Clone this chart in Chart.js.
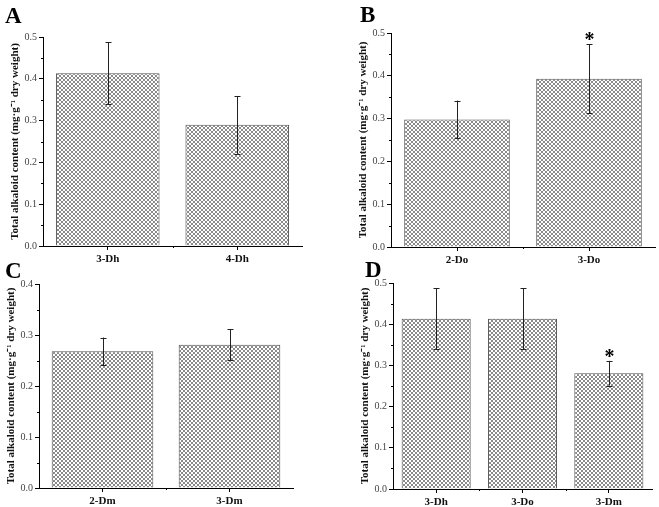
<!DOCTYPE html>
<html><head><meta charset="utf-8">
<script src="https://cdn.jsdelivr.net/npm/chart.js@4/dist/chart.umd.min.js"></script>
<style>
html,body{margin:0;padding:0;background:#fff;}
#wrap{position:relative;width:659px;height:507px;overflow:hidden;background:#fff;}
canvas{position:absolute;}
.lbl{position:absolute;font-family:"Liberation Serif",serif;font-weight:bold;font-size:23px;line-height:1;color:#000;}
</style></head>
<body>
<div id="wrap">
  <canvas id="cA" width="330" height="270" style="left:0;top:0"></canvas>
  <canvas id="cB" width="329" height="270" style="left:330px;top:0"></canvas>
  <canvas id="cC" width="330" height="252" style="left:0;top:255px"></canvas>
  <canvas id="cD" width="329" height="252" style="left:330px;top:255px"></canvas>
  <div class="lbl" style="left:5px;top:4px">A</div>
  <div class="lbl" style="left:360px;top:3px">B</div>
  <div class="lbl" style="left:5px;top:259px">C</div>
  <div class="lbl" style="left:365px;top:258px">D</div>
</div>
<script>
// ---- data ----
const catsA = ['3-Dh', '4-Dh'];
const valsA = [0.413, 0.290];
const errA  = [0.074, 0.069];
const sigA  = ['', ''];

const catsB = ['2-Do', '3-Do'];
const valsB = [0.298, 0.393];
const errB  = [0.044, 0.081];
const sigB  = ['', '*'];

const catsC = ['2-Dm', '3-Dm'];
const valsC = [0.268, 0.281];
const errC  = [0.027, 0.030];
const sigC  = ['', ''];

const catsD = ['3-Dh', '3-Do', '3-Dm'];
const valsD = [0.413, 0.413, 0.281];
const errD  = [0.074, 0.074, 0.030];
const sigD  = ['', '', '*'];

const yMaxA = 0.5, yMaxB = 0.5, yMaxC = 0.4, yMaxD = 0.5;
const yTitle = 'Total alkaloid content (mg\u00B7g\u207B\u00B9 dry weight)';

// ---- style ----
const FONT = '"Liberation Serif", "Times New Roman", serif';

function makePattern() {
  const c = document.createElement('canvas');
  c.width = 4; c.height = 4;
  const g = c.getContext('2d');
  g.fillStyle = '#ffffff'; g.fillRect(0, 0, 4, 4);
  g.fillStyle = '#8a8a8a';
  for (let i = 0; i < 4; i++) {
    g.fillRect(i, i, 1, 1);
    g.fillRect(3 - i, i, 1, 1);
  }
  return g.createPattern(c, 'repeat');
}

const errPlugin = {
  id: 'errbars',
  afterDatasetsDraw(chart) {
    const {ctx} = chart;
    const y = chart.scales.y;
    const ds = chart.data.datasets[0];
    const meta = chart.getDatasetMeta(0);
    ctx.save();
    ctx.strokeStyle = '#222';
    ctx.lineWidth = 1;
    ds.data.forEach((v, i) => {
      const e = ds.errors[i];
      const cx = Math.round(meta.data[i].x) + 0.5;
      const yt = y.getPixelForValue(v + e);
      const yb = y.getPixelForValue(v - e);
      ctx.beginPath();
      ctx.moveTo(cx, yt); ctx.lineTo(cx, yb);
      ctx.moveTo(cx - 3, Math.round(yt) + 0.5); ctx.lineTo(cx + 3, Math.round(yt) + 0.5);
      ctx.moveTo(cx - 3, Math.round(yb) + 0.5); ctx.lineTo(cx + 3, Math.round(yb) + 0.5);
      ctx.stroke();
      if (ds.sig[i]) {
        ctx.fillStyle = '#000';
        ctx.font = 'bold 20px ' + FONT;
        ctx.textAlign = 'center';
        ctx.textBaseline = 'alphabetic';
        ctx.fillText(ds.sig[i], cx, yt + 2);
      }
    });
    // minor ticks
    const a = chart.chartArea;
    ctx.strokeStyle = '#000';
    ctx.beginPath();
    for (let t = 0.05; t < y.max; t += 0.1) {
      const py = Math.round(y.getPixelForValue(t)) + 0.5;
      ctx.moveTo(a.left - 2, py); ctx.lineTo(a.left, py);
    }
    const n = ds.data.length;
    for (let i = 1; i < n; i++) {
      const px = Math.round(a.left + i * (a.right - a.left) / n) + 0.5;
      ctx.moveTo(px, a.bottom); ctx.lineTo(px, a.bottom + 2);
    }
    ctx.stroke();
    ctx.restore();
  }
};

function makeChart(id, cats, vals, errs, sig, yMax, area) {
  const cv = document.getElementById(id);
  const W = cv.width, H = cv.height;
  return new Chart(cv, {
    type: 'bar',
    data: {
      labels: cats,
      datasets: [{
        data: vals,
        errors: errs,
        sig: sig,
        backgroundColor: makePattern(),
        borderColor: '#555',
        borderWidth: 1,
        barPercentage: 0.8,
        categoryPercentage: 1.0
      }]
    },
    options: {
      responsive: false,
      animation: false,
      devicePixelRatio: 1,
      layout: {padding: {left: 0, top: area.top, right: W - area.right, bottom: 0}},
      plugins: {legend: {display: false}, tooltip: {enabled: false}},
      scales: {
        x: {
          grid: {display: true, drawOnChartArea: false, offset: false, tickLength: 4, color: '#000'},
          border: {display: true, color: '#000', width: 1},
          ticks: {font: {family: FONT, weight: 'bold', size: 11}, color: '#111', padding: 3, maxRotation: 0},
          afterFit(s) { s.height = H - area.bottom; }
        },
        y: {
          min: 0, max: yMax,
          ticks: {stepSize: 0.1, callback: v => Number(v).toFixed(1), font: {family: FONT, size: 10}, color: '#444', padding: 2},
          grid: {display: true, drawOnChartArea: false, tickLength: 4, color: '#000'},
          border: {display: true, color: '#000', width: 1},
          title: {display: true, text: yTitle, font: {family: FONT, weight: 'bold', size: 11}, color: '#111',
                  padding: {top: area.left - 27 - 7, bottom: 0}},
          afterFit(s) { s.width = area.left; }
        }
      }
    },
    plugins: [errPlugin]
  });
}

makeChart('cA', catsA, valsA, errA, sigA, yMaxA, {left: 43, right: 302, top: 37, bottom: 246});
makeChart('cB', catsB, valsB, errB, sigB, yMaxB, {left: 61, right: 325, top: 33, bottom: 247});
makeChart('cC', catsC, valsC, errC, sigC, yMaxC, {left: 39, right: 293, top: 29, bottom: 233});
makeChart('cD', catsD, valsD, errD, sigD, yMaxD, {left: 63, right: 322, top: 28, bottom: 234});
</script>
</body></html>
